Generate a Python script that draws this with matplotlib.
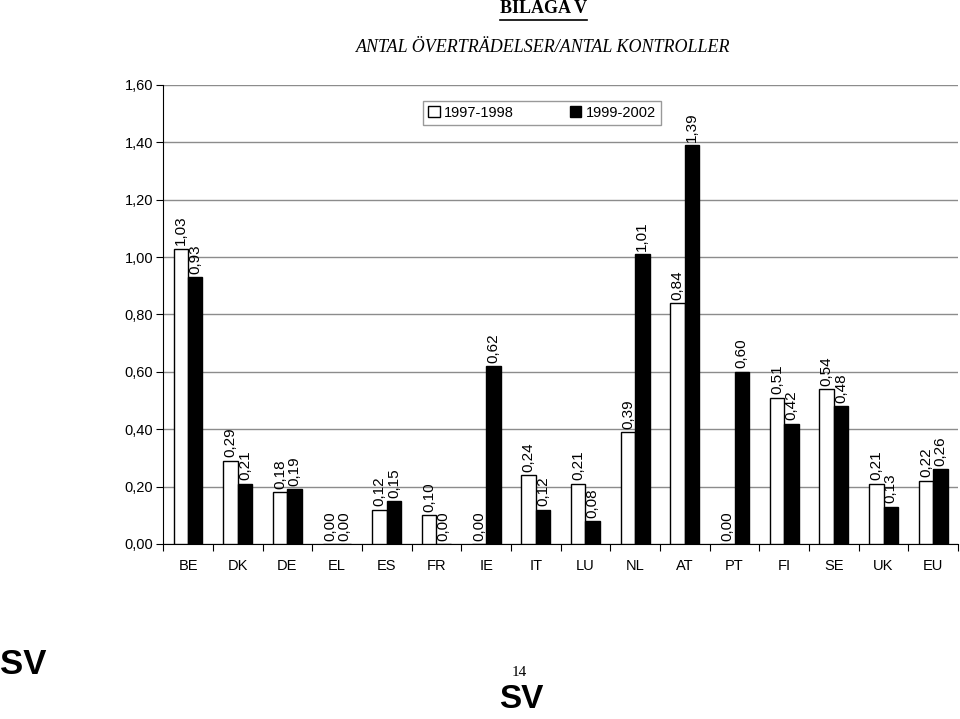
import numpy as np
import matplotlib.pyplot as plt

# Data
lander = ['BE', 'DK', 'DE', 'EL', 'ES', 'FR', 'IE', 'IT', 'LU', 'NL',
          'AT', 'PT', 'FI', 'SE', 'UK', 'EU']
v_9798 = [1.03, 0.29, 0.18, 0.00, 0.12, 0.10, 0.00, 0.24, 0.21, 0.39,
          0.84, 0.00, 0.51, 0.54, 0.21, 0.22]
v_9902 = [0.93, 0.21, 0.19, 0.00, 0.15, 0.00, 0.62, 0.12, 0.08, 1.01,
          1.39, 0.60, 0.42, 0.48, 0.13, 0.26]
serier = ['1997-1998', '1999-2002']
yticks = [0.0, 0.2, 0.4, 0.6, 0.8, 1.0, 1.2, 1.4, 1.6]

sans = 'Liberation Sans'
serif = 'Liberation Serif'

fig = plt.figure(figsize=(9.6, 7.19), dpi=100)
ax = fig.add_axes([0.170, 0.2434, 0.828, 0.6384])

x = np.arange(len(lander))
w = 0.29
ax.bar(x - w/2, v_9798, w, color='white', edgecolor='black', linewidth=1.0,
       label=serier[0], zorder=3)
ax.bar(x + w/2, v_9902, w, color='black', edgecolor='black', linewidth=1.0,
       label=serier[1], zorder=3)

# Etiketter ovanför staplarna
for xs, vals in ((x - w/2, v_9798), (x + w/2, v_9902)):
    for xi, v in zip(xs, vals):
        ax.text(xi, v + 0.012, '{:.2f}'.format(v).replace('.', ','),
                rotation=90, ha='center', va='bottom', fontsize=11,
                family=sans, zorder=4)

ax.set_xlim(-0.5, len(lander) - 0.5)
ax.set_ylim(0, 1.6)
ax.set_yticks(yticks)
ax.set_yticklabels(['{:.2f}'.format(t).replace('.', ',') for t in yticks],
                   family=sans, fontsize=10.5)
ax.set_xticks(x)
ax.set_xticklabels(lander, family=sans, fontsize=10.5)
ax.tick_params(axis='x', length=0, pad=11)
ax.set_xticks(np.arange(-0.5, len(lander), 1), minor=True)
ax.tick_params(axis='x', which='minor', length=5, direction='out', width=0.8)
ax.tick_params(axis='y', length=5, width=0.8, pad=2)
ax.yaxis.grid(True, color='#8c8c8c', linewidth=1.0, zorder=0)
ax.set_axisbelow(True)
for s in ('top', 'right'):
    ax.spines[s].set_visible(False)
ax.spines['left'].set_linewidth(0.8)
ax.spines['bottom'].set_linewidth(0.8)

leg = ax.legend(loc='upper left', bbox_to_anchor=(0.327, 0.966), ncol=2,
                frameon=True, fancybox=False, edgecolor='#808080',
                prop={'family': sans, 'size': 10.5}, handlelength=0.8,
                handleheight=0.8, columnspacing=3.8, handletextpad=0.3,
                borderpad=0.35, borderaxespad=0)
leg.get_frame().set_linewidth(1.0)

# Rubriker
fig.text(0.566, 0.988, 'BILAGA V', ha='center', va='center', family=serif,
         fontsize=13, fontweight='bold')
fig.add_artist(plt.Line2D([0.521, 0.611], [0.972, 0.972], color='black', linewidth=1.2))
fig.text(0.566, 0.934, 'ANTAL ÖVERTRÄDELSER/ANTAL KONTROLLER', ha='center',
         va='center', family=serif, fontsize=13, style='italic')

# Sidfot
fig.text(0.0, 0.076, 'SV', ha='left', va='center', family=sans, fontsize=25,
         fontweight='bold')
fig.text(0.541, 0.065, '14', ha='center', va='center', family=serif, fontsize=11)
fig.text(0.543, 0.027, 'SV', ha='center', va='center', family=sans, fontsize=24,
         fontweight='bold')

fig.savefig('out.png', dpi=100)
